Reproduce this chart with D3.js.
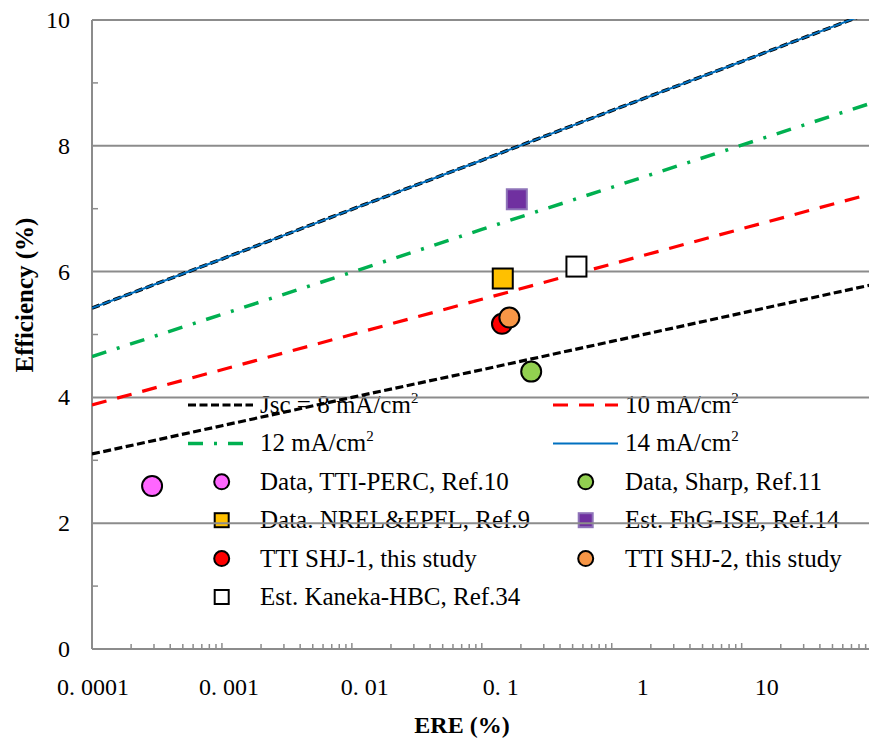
<!DOCTYPE html>
<html>
<head>
<meta charset="utf-8">
<script src="https://cdn.jsdelivr.net/npm/d3@7"></script>
<style>
  body { margin: 0; background: #fff; }
</style>
</head>
<body>
<div id="chart"></div>
<script>
// ERE decades used to sample the Jsc lines
var ereDecades = [0.0001, 0.001, 0.01, 0.1, 1, 10, 100];
// efficiency (%) read at each decade
var eff8  = [3.10, 3.55, 4.00, 4.44, 4.89, 5.34, 5.79];
var eff10 = [3.88, 4.44, 5.00, 5.56, 6.12, 6.68, 7.24];
var eff12 = [4.65, 5.32, 5.99, 6.67, 7.34, 8.01, 8.68];
var eff14 = [5.42, 6.20, 6.99, 7.77, 8.56, 9.34, 10.13];

// measured / estimated cells
var pointNames = ["Data, TTI-PERC, Ref.10", "Data, Sharp, Ref.11", "Data. NREL&EPFL, Ref.9",
                  "Est. FhG-ISE, Ref.14", "TTI SHJ-1, this study", "TTI SHJ-2, this study",
                  "Est. Kaneka-HBC, Ref.34"];
var pointEre = [0.00029, 0.24, 0.145, 0.186, 0.143, 0.163, 0.535];
var pointEff = [2.59, 4.41, 5.89, 7.15, 5.17, 5.27, 6.08];
var pointShape = ["circle", "circle", "square", "square", "circle", "circle", "square"];
var pointFill = ["#ff66ff", "#92d050", "#ffc000", "#7030a0", "#ff0000", "#f79646", "#ffffff"];
var pointStroke = ["#000", "#000", "#000", "#8e73b8", "#000", "#000", "#000"];

var yTicks = [0, 2, 4, 6, 8, 10];
var xTicks = [0.0001, 0.001, 0.01, 0.1, 1, 10];
var xTickLabels = ["0. 0001", "0. 001", "0. 01", "0. 1", "1", "10"];

var W = 869, H = 738;
var mLeft = 92, mTop = 20, mBottom = 649, mRight = 871.6;

var x = d3.scaleLog().domain([0.0001, 100]).range([mLeft, mRight]);
var y = d3.scaleLinear().domain([0, 10]).range([mBottom, mTop]);

var svg = d3.select("#chart").append("svg")
    .attr("width", W).attr("height", H);

svg.append("defs").append("clipPath").attr("id", "plotclip")
  .append("rect").attr("x", mLeft).attr("y", mTop - 1)
  .attr("width", W - mLeft).attr("height", mBottom - mTop + 1);

// legend (drawn first, lines pass over it)
var legendLines = [
  {label: "Jsc = 8 mA/cm", color: "#000", dash: "8,3.5", w: 3.2, col: 0, row: 0},
  {label: "10 mA/cm", color: "#ff0000", dash: "15,11", w: 3.2, col: 1, row: 0},
  {label: "12 mA/cm", color: "#00b050", dash: "15,11,3,11", w: 3.5, col: 0, row: 1},
  {label: "14 mA/cm", color: "#0070c0", dash: null, w: 2, col: 1, row: 1}
];
var colMarker = [221.7, 585.7], colText = [260, 625];
var colLine = [[188, 253], [553, 618]];
var rowY = function(r) { return 405 + r * 38.4; };

var lg = svg.append("g");
legendLines.forEach(function(d) {
  var cy = rowY(d.row);
  lg.append("line")
    .attr("x1", colLine[d.col][0]).attr("x2", colLine[d.col][1])
    .attr("y1", cy).attr("y2", cy)
    .attr("stroke", d.color).attr("stroke-width", d.w)
    .attr("stroke-dasharray", d.dash);
  var t = lg.append("text").attr("x", colText[d.col]).attr("y", cy + 8)
    .attr("font-size", 25).text(d.label);
  t.append("tspan").attr("dy", -10).attr("font-size", 15).text("2");
});

function drawMarker(g, shape, cx, cy, size, fill, stroke) {
  if (shape === "circle") {
    g.append("circle").attr("cx", cx).attr("cy", cy).attr("r", size / 2)
      .attr("fill", fill).attr("stroke", stroke).attr("stroke-width", 2);
  } else {
    g.append("rect").attr("x", cx - size / 2).attr("y", cy - size / 2)
      .attr("width", size).attr("height", size)
      .attr("fill", fill).attr("stroke", stroke).attr("stroke-width", 2);
  }
}

pointNames.forEach(function(name, i) {
  var col = i % 2, row = 2 + Math.floor(i / 2);
  var cy = rowY(row);
  drawMarker(lg, pointShape[i], colMarker[col], cy, pointShape[i] === "circle" ? 15 : 14,
             pointFill[i], pointStroke[i]);
  lg.append("text").attr("x", colText[col]).attr("y", cy + 8)
    .attr("font-size", 25).text(name);
});

// gridlines
svg.append("g").selectAll("line")
  .data(yTicks.filter(function(v) { return v > 0; }))
  .enter().append("line")
  .attr("x1", mLeft).attr("x2", W)
  .attr("y1", function(d) { return y(d); }).attr("y2", function(d) { return y(d); })
  .attr("stroke", "#8c8c8c").attr("stroke-width", 2);

// y minor ticks (odd values) inside the plot
svg.append("g").selectAll("line")
  .data([1, 3, 5, 7, 9])
  .enter().append("line")
  .attr("x1", mLeft).attr("x2", mLeft + 6)
  .attr("y1", function(d) { return y(d); }).attr("y2", function(d) { return y(d); })
  .attr("stroke", "#8c8c8c").attr("stroke-width", 1.5);

// x axis with minor log ticks
var minor = [];
[0.0001, 0.001, 0.01, 0.1, 1, 10].forEach(function(dec) {
  for (var k = 2; k <= 10; k++) minor.push(dec * k);
});
svg.append("g").selectAll("line")
  .data(minor.filter(function(v) { return x(v) < W; }))
  .enter().append("line")
  .attr("x1", function(d) { return x(d); }).attr("x2", function(d) { return x(d); })
  .attr("y1", mBottom).attr("y2", function(d, i) { return (i % 9 === 8) ? mBottom - 6 : mBottom - 5; })
  .attr("stroke", "#8c8c8c").attr("stroke-width", 1.5);

svg.append("line").attr("x1", mLeft).attr("x2", W).attr("y1", mBottom).attr("y2", mBottom)
  .attr("stroke", "#8c8c8c").attr("stroke-width", 2);
svg.append("line").attr("x1", mLeft).attr("x2", mLeft).attr("y1", mTop).attr("y2", mBottom)
  .attr("stroke", "#8c8c8c").attr("stroke-width", 2);

// tick labels
svg.append("g").selectAll("text")
  .data(yTicks).enter().append("text")
  .attr("x", 70).attr("y", function(d) { return y(d) + 8; })
  .attr("text-anchor", "end").attr("font-size", 24)
  .text(function(d) { return d; });

svg.append("g").selectAll("text")
  .data(xTicks).enter().append("text")
  .attr("x", function(d) { return x(d) + 37; }).attr("y", 695)
  .attr("text-anchor", "end").attr("font-size", 24)
  .text(function(d, i) { return xTickLabels[i]; });

// axis titles
svg.append("text").attr("x", 462).attr("y", 733).attr("text-anchor", "middle")
  .attr("font-size", 24).attr("font-weight", "bold").text("ERE (%)");
svg.append("text").attr("transform", "translate(33,295) rotate(-90)")
  .attr("text-anchor", "middle").attr("font-size", 25).attr("font-weight", "bold")
  .text("Efficiency (%)");

// serif font on every text
svg.selectAll("text, tspan").attr("font-family", "Liberation Serif")
  .style("font-family", "'Liberation Serif'").attr("fill", "#000");

// Jsc lines
var line = d3.line()
  .x(function(d) { return x(d[0]); })
  .y(function(d) { return y(d[1]); });
var pl = svg.append("g").attr("clip-path", "url(#plotclip)");
function series(vals) { return ereDecades.map(function(e, i) { return [e, vals[i]]; }); }

pl.append("path").datum(series(eff14)).attr("d", line).attr("fill", "none")
  .attr("stroke", "#000").attr("stroke-width", 3.5).attr("stroke-dasharray", "8,3.5");
pl.append("path").datum(series(eff14)).attr("d", line).attr("fill", "none")
  .attr("stroke", "#0070c0").attr("stroke-width", 2);
pl.append("path").datum(series(eff12)).attr("d", line).attr("fill", "none")
  .attr("stroke", "#00b050").attr("stroke-width", 3.5).attr("stroke-dasharray", "15,11,3,11");
pl.append("path").datum(series(eff10)).attr("d", line).attr("fill", "none")
  .attr("stroke", "#ff0000").attr("stroke-width", 3.2).attr("stroke-dasharray", "15,11");
pl.append("path").datum(series(eff8)).attr("d", line).attr("fill", "none")
  .attr("stroke", "#000").attr("stroke-width", 3.2).attr("stroke-dasharray", "8,3.5");

// data points
var pg = svg.append("g");
pointNames.forEach(function(name, i) {
  drawMarker(pg, pointShape[i], x(pointEre[i]), y(pointEff[i]), 20, pointFill[i], pointStroke[i]);
});
</script>
</body>
</html>
